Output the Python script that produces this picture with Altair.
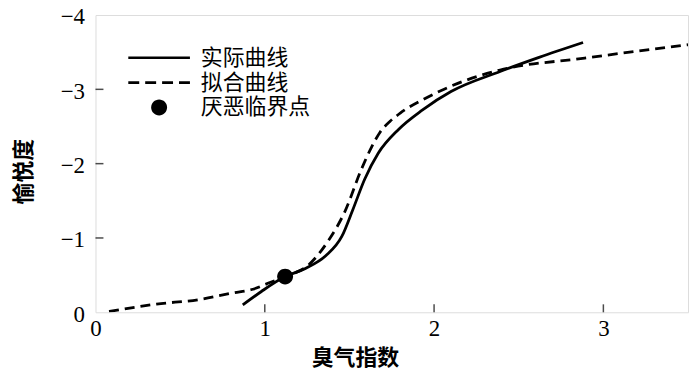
import altair as alt
import pandas as pd

# ---- data ----
actual_x = [0.87, 0.98, 1.12, 1.24, 1.36, 1.455, 1.52, 1.59, 1.67, 1.79, 1.93, 2.10, 2.39, 2.62, 2.88]
actual_y = [-0.10, -0.28, -0.48, -0.59, -0.76, -1.02, -1.38, -1.79, -2.14, -2.46, -2.72, -2.97, -3.24, -3.43, -3.63]

fit_x = [0.08, 0.36, 0.61, 0.81, 0.93, 1.03, 1.12, 1.26, 1.38, 1.47, 1.57, 1.63, 1.68, 1.74, 1.80, 1.95, 2.14, 2.39, 2.89, 3.5]
fit_y = [-0.01, -0.11, -0.17, -0.26, -0.31, -0.40, -0.48, -0.64, -0.98, -1.34, -1.92, -2.22, -2.42, -2.57, -2.68, -2.88, -3.08, -3.26, -3.42, -3.60]

point_x = [1.12]
point_y = [-0.48]

legend_labels = ["实际曲线", "拟合曲线", "厌恶临界点"]
x_tick_values = [0, 1, 2, 3]
y_tick_values = [0, -1, -2, -3, -4]
inner_x_ticks = [1, 2, 3]
inner_y_ticks = [-1, -2, -3]

x_title = "臭气指数"
y_title = "愉悦度"

# ---- chart ----
W, H = 596, 299
CJK = "Noto Sans CJK SC"
SERIF = "Liberation Serif"

xscale = alt.Scale(domain=[0, 3.5], nice=False, zero=False)
yscale = alt.Scale(domain=[0, -4], nice=False, zero=False)

xaxis = alt.Axis(values=x_tick_values, format="~g", ticks=False, domain=False, grid=False,
                 labelFont=SERIF, labelFontSize=23, labelColor="black", labelPadding=5,
                 labelFlush=False,
                 title=x_title, titleFont=CJK, titleFontSize=22, titleFontWeight="bold",
                 titleColor="black", titleX=261, titleY=36, titleAlign="center",
                 titleBaseline="top")
yaxis = alt.Axis(values=y_tick_values, format="~g", ticks=False, domain=False, grid=False,
                 labelFont=SERIF, labelFontSize=23, labelColor="black", labelPadding=11,
                 labelFlush=False, labelOffset=2,
                 title=y_title, titleFont=CJK, titleFontSize=22, titleFontWeight="bold",
                 titleColor="black", titleX=-60, titleY=157, titleAlign="center",
                 titleAngle=270, titleBaseline="bottom")

X = alt.X("x:Q", scale=xscale, axis=xaxis)
Y = alt.Y("y:Q", scale=yscale, axis=yaxis)

actual_df = pd.DataFrame({"x": actual_x, "y": actual_y})
fit_df = pd.DataFrame({"x": fit_x, "y": fit_y})
pt_df = pd.DataFrame({"x": point_x, "y": point_y, "label": [legend_labels[2]]})

actual = alt.Chart(actual_df).mark_line(color="black", strokeWidth=2.8, interpolate="monotone").encode(x=X, y=Y)
fit = alt.Chart(fit_df).mark_line(color="black", strokeWidth=2.8, strokeDash=[10, 6],
                                  interpolate="monotone", clip=True).encode(x=X, y=Y)

# legend symbols as filled shapes (units of 10 px)
solid_path = "M-3.1,-0.13H3.1V0.13H-3.1Z"
dash_path = ("M-3.1,-0.13H-2.0V0.13H-3.1Z M-1.4,-0.13H-0.3V0.13H-1.4Z "
             "M0.3,-0.13H1.4V0.13H0.3Z M2.0,-0.13H3.1V0.13H2.0Z")
circle_path = "M-0.8,0A0.8,0.8 0 1,0 0.8,0A0.8,0.8 0 1,0 -0.8,0Z"

point = alt.Chart(pt_df).mark_point(filled=True, fill="black", size=400, opacity=1).encode(
    x=X, y=Y,
    shape=alt.Shape("label:N",
                    scale=alt.Scale(domain=legend_labels, range=[solid_path, dash_path, circle_path]),
                    legend=alt.Legend(title=None, orient="none", legendX=53, legendY=32,
                                      labelFont=CJK, labelFontSize=22, labelColor="black",
                                      labelOffset=31, rowPadding=3, padding=0,
                                      symbolFillColor="black", symbolStrokeWidth=0,
                                      symbolSize=400, symbolOpacity=1)),
)

xt = alt.Chart(pd.DataFrame({"x": inner_x_ticks})).mark_tick(
    color="black", thickness=1.5, size=8, orient="vertical").encode(x=X, y=alt.value(H - 4))
yt = alt.Chart(pd.DataFrame({"y": inner_y_ticks})).mark_tick(
    color="black", thickness=1.5, size=8, orient="horizontal").encode(y=Y, x=alt.value(4))

chart = alt.layer(actual, fit, point, xt, yt).properties(
    width=W, height=H,
    autosize=alt.AutoSizeParams(type="none"),
    padding={"left": 88, "top": 6, "right": 4, "bottom": 58},
).configure_view(stroke="black", strokeWidth=1.6).configure(background="white")

chart.save("out.html", embed_options={"renderer": "svg", "actions": False})
